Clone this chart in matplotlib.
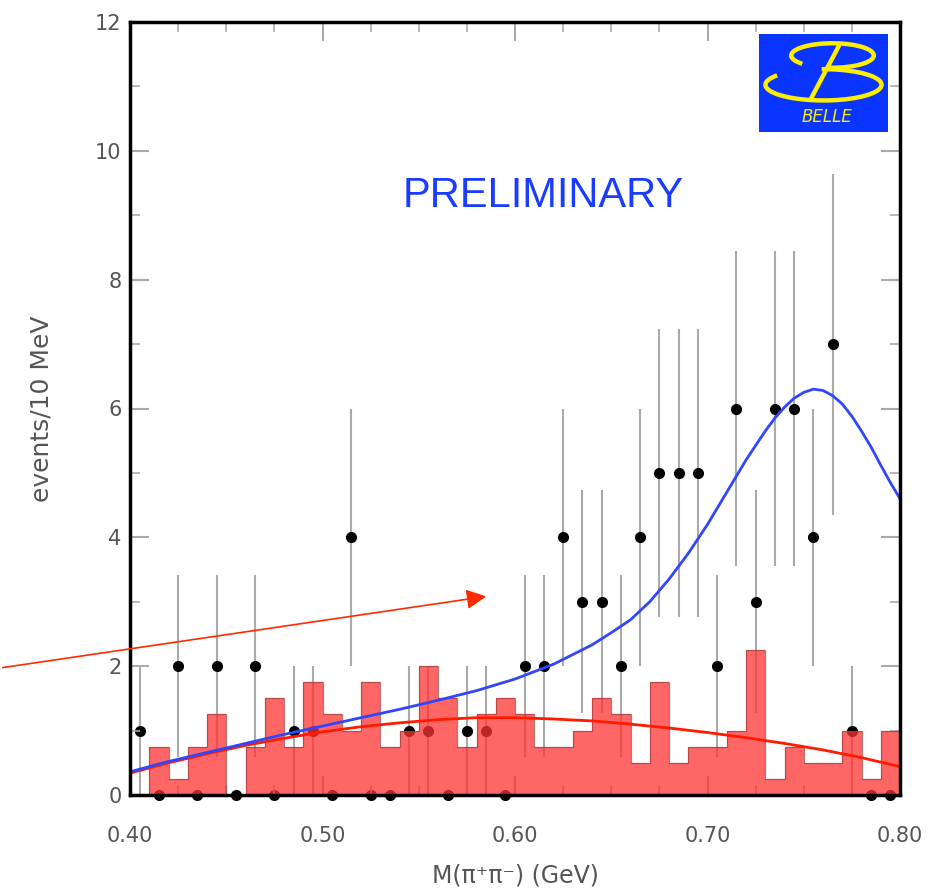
import numpy as np
import matplotlib.pyplot as plt
from matplotlib.patches import Arc, FancyArrowPatch
from matplotlib.ticker import MultipleLocator, FormatStrFormatter

# #############################################################################
# Data
# #############################################################################
bin_edges = np.linspace(0.40, 0.80, 41)
bin_centers = 0.5 * (bin_edges[:-1] + bin_edges[1:])

data_counts = np.array([1, 0, 2, 0, 2, 0, 2, 0, 1, 1,
                        0, 4, 0, 0, 1, 1, 0, 1, 1, 0,
                        2, 2, 4, 3, 3, 2, 4, 5, 5, 5,
                        2, 6, 3, 6, 6, 4, 7, 1, 0, 0])

bkg_hist = [0, 0.75, 0.25, 0.75, 1.25, 0, 0.75, 1.5, 0.75, 1.75,
            1.25, 1.0, 1.75, 0.75, 1.0, 2.0, 1.5, 0.75, 1.25, 1.5,
            1.25, 0.75, 0.75, 1.0, 1.5, 1.25, 0.5, 1.75, 0.5, 0.75,
            0.75, 1.0, 2.25, 0.25, 0.75, 0.5, 0.5, 1.0, 0.25, 1.0]

# total fit (blue)
fit_x = [0.40, 0.42, 0.44, 0.46, 0.48, 0.50, 0.52, 0.54, 0.56, 0.58,
         0.60, 0.62, 0.64, 0.65, 0.66, 0.67, 0.68, 0.69, 0.70, 0.71,
         0.72, 0.73, 0.735, 0.74, 0.745, 0.75, 0.755, 0.76, 0.765, 0.77,
         0.775, 0.78, 0.785, 0.79, 0.795, 0.80]
fit_y = [0.36, 0.52, 0.66, 0.80, 0.94, 1.07, 1.20, 1.33, 1.47, 1.62,
         1.80, 2.03, 2.33, 2.52, 2.72, 3.00, 3.35, 3.75, 4.20, 4.70,
         5.20, 5.65, 5.85, 6.02, 6.16, 6.25, 6.30, 6.28, 6.20, 6.07,
         5.88, 5.65, 5.40, 5.12, 4.85, 4.60]

# background fit (red)
bkg_x = [0.40, 0.42, 0.44, 0.46, 0.48, 0.50, 0.52, 0.54, 0.56, 0.58,
         0.60, 0.62, 0.64, 0.66, 0.68, 0.70, 0.72, 0.74, 0.76, 0.78, 0.80]
bkg_y = [0.34, 0.50, 0.64, 0.77, 0.88, 0.98, 1.06, 1.12, 1.17, 1.20,
         1.20, 1.18, 1.15, 1.10, 1.04, 0.97, 0.89, 0.80, 0.70, 0.58, 0.44]

TXT = "#555555"

# #############################################################################
# Figure
# #############################################################################
fig = plt.figure(figsize=(9.47, 8.92), dpi=100)
ax = fig.add_axes([130/947, 1-795/892, 770/947, 773/892])

# data points with sqrt(N) errors
nz = data_counts > 0
err = np.sqrt(data_counts[nz])
ax.vlines(bin_centers[nz], data_counts[nz]-err, data_counts[nz]+err,
          color="#aaaaaa", lw=1.5, zorder=1)
ax.plot(bin_centers, data_counts, "o", color="black", ms=7, zorder=1.5, clip_on=False)

# background histogram
ax.stairs(bkg_hist, bin_edges, fill=True, facecolor=(1.0, 0.2, 0.2, 0.75),
          edgecolor="none", zorder=2)
ax.stairs(bkg_hist, bin_edges, color="#a03a3a", lw=0.9, alpha=0.7, zorder=2.1)

# fit curves
ax.plot(bkg_x, bkg_y, color="#ff1a00", lw=2, zorder=4)
ax.plot(fit_x, fit_y, color="#3045ff", lw=2, zorder=4)

ax.set_xlim(0.40, 0.80)
ax.set_ylim(0, 12)
ax.xaxis.set_major_locator(MultipleLocator(0.1))
ax.xaxis.set_minor_locator(MultipleLocator(0.025))
ax.xaxis.set_major_formatter(FormatStrFormatter("%.2f"))
ax.yaxis.set_major_locator(MultipleLocator(2))
ax.yaxis.set_minor_locator(MultipleLocator(1))
ax.tick_params(which="both", direction="in", top=True, right=True, color="#aaaaaa",
               labelcolor=TXT, labelsize=15)
ax.tick_params(which="major", length=14, width=1.5)
ax.tick_params(which="minor", length=7, width=1.2)
ax.tick_params(axis="x", pad=22)
ax.tick_params(axis="y", pad=6)
for s in ax.spines.values():
    s.set_linewidth(2.5)
    s.set_zorder(5)

ax.set_xlabel("M(π⁺π⁻) (GeV)", fontsize=17, color=TXT, labelpad=13)
ax.set_ylabel("events/10 MeV", fontsize=18, color=TXT, labelpad=30)

fig.text(543/947, 1-207/892, "PRELIMINARY", fontsize=30, color="#1a3cff",
         family="Liberation Sans", ha="center", va="baseline")

# arrow
fig.add_artist(FancyArrowPatch(
    (0/947, 1-668/892), (489/947, 1-596/892), transform=fig.transFigure,
    arrowstyle="-|>,head_length=8,head_width=4", color="#ff2a00", lw=1.2,
    mutation_scale=1.5))

# Belle logo
lg = fig.add_axes([759/947, 1-131.7/892, 129/947, 97.7/892])
lg.set_xlim(0, 1)
lg.set_ylim(0, 1)
lg.set_facecolor("#0a34ff")
for s in lg.spines.values():
    s.set_visible(False)
lg.set_xticks([])
lg.set_yticks([])
yel = "#ffee00"
lg.add_patch(Arc((0.57, 0.78), 0.64, 0.25, theta1=-110, theta2=200, color=yel, lw=3.2))
lg.add_patch(Arc((0.50, 0.48), 0.90, 0.32, theta1=165, theta2=455, color=yel, lw=3.2))
lg.plot([0.62, 0.40], [0.88, 0.33], color=yel, lw=3.2, solid_capstyle="round")
lg.text(0.53, 0.15, "BELLE", color=yel, fontsize=12, style="italic",
        ha="center", va="center")

fig.savefig("out.png", dpi=100)
